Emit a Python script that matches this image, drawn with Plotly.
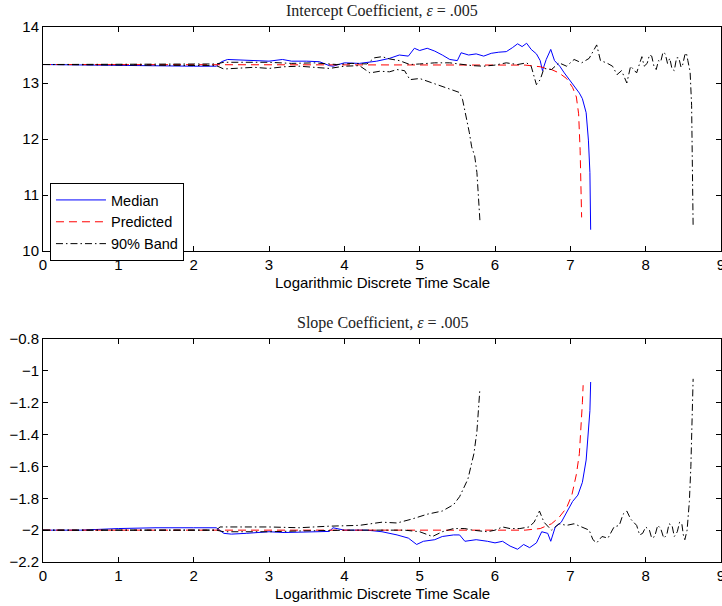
import plotly.graph_objects as go

# ---------------- data ----------------
# Top panel: Intercept coefficient
top_median_x = [0, 0.5, 1.0, 1.5, 2.0, 2.3, 2.37, 2.45, 2.6, 2.8, 3.0, 3.18, 3.3, 3.5, 3.67, 3.8, 3.85,
                4.0, 4.2, 4.43, 4.6, 4.73, 4.85, 4.93, 5.0, 5.1, 5.2, 5.3, 5.4, 5.5, 5.55, 5.65, 5.75,
                5.85, 5.95, 6.05, 6.15, 6.23, 6.3, 6.36, 6.42, 6.48, 6.55, 6.6, 6.63, 6.68, 6.74, 6.79,
                6.86, 6.92, 6.99, 7.06, 7.12, 7.16, 7.21, 7.24, 7.26, 7.27]
top_median_y = [13.33, 13.32, 13.31, 13.30, 13.30, 13.30, 13.38, 13.42, 13.41, 13.40, 13.39, 13.42, 13.39,
                13.39, 13.38, 13.31, 13.30, 13.36, 13.35, 13.39, 13.44, 13.50, 13.48, 13.62, 13.58, 13.62,
                13.57, 13.50, 13.42, 13.40, 13.54, 13.50, 13.52, 13.48, 13.53, 13.55, 13.56, 13.63, 13.70,
                13.65, 13.71, 13.60, 13.52, 13.40, 13.22, 13.42, 13.60, 13.40, 13.30, 13.18, 13.06, 12.93,
                12.82, 12.72, 12.47, 11.98, 11.40, 10.38]

top_pred_x = [0, 6.0, 6.4, 6.6, 6.75, 6.85, 6.95, 7.03, 7.08, 7.11, 7.13, 7.15]
top_pred_y = [13.33, 13.33, 13.32, 13.29, 13.24, 13.18, 13.08, 12.92, 12.75, 12.45, 11.8, 10.6]

top_band_a_x = [0, 1.0, 2.0, 2.3, 2.4, 2.6, 2.8, 3.0, 3.2, 3.4, 3.6, 3.8, 4.0, 4.2, 4.34, 4.47, 4.6,
                4.7, 4.8, 4.87, 5.0, 5.13, 5.26, 5.4, 5.53, 5.57, 5.6, 5.66, 5.69, 5.73, 5.76, 5.78, 5.8]
top_band_a_y = [13.33, 13.32, 13.31, 13.31, 13.25, 13.27, 13.28, 13.26, 13.29, 13.30, 13.28, 13.26, 13.30,
                13.31, 13.18, 13.21, 13.20, 13.24, 13.22, 13.06, 13.08, 13.02, 12.95, 12.89, 12.83, 12.70,
                12.52, 12.11, 11.86, 11.70, 11.40, 10.92, 10.54]

top_band_b_x = [0, 1.0, 2.0, 2.3, 2.4, 2.6, 2.8, 3.0, 3.3, 3.6, 3.9, 4.1, 4.3, 4.4, 4.5, 4.6, 4.73, 4.87,
                5.0, 5.2, 5.4, 5.55, 5.7, 5.85, 6.0, 6.15, 6.3, 6.42, 6.48, 6.55, 6.6, 6.65, 6.75, 6.85,
                6.95, 7.05, 7.15, 7.25, 7.3, 7.35, 7.4, 7.48, 7.56, 7.62, 7.68, 7.75, 7.8,
                7.88, 7.92, 7.95, 7.98, 8.02, 8.05, 8.08, 8.11, 8.14, 8.17, 8.2, 8.23, 8.26, 8.29,
                8.32, 8.35, 8.38, 8.41, 8.44, 8.47, 8.49, 8.52, 8.54, 8.56, 8.59, 8.61, 8.62, 8.63]
top_band_b_y = [13.33, 13.34, 13.34, 13.34, 13.37, 13.37, 13.36, 13.37, 13.35, 13.36, 13.33, 13.35, 13.34,
                13.45, 13.47, 13.43, 13.40, 13.33, 13.34, 13.36, 13.36, 13.33, 13.31, 13.30, 13.32, 13.36,
                13.33, 13.36, 13.30, 12.97, 13.06, 13.26, 13.24, 13.36, 13.30, 13.42, 13.36, 13.44, 13.55,
                13.68, 13.40, 13.36, 13.30, 13.15, 13.22, 13.00, 13.30,
                13.18, 13.35, 13.47, 13.30, 13.35, 13.50, 13.48, 13.30, 13.24, 13.40, 13.38, 13.55, 13.52,
                13.35, 13.44, 13.25, 13.22, 13.45, 13.45, 13.28, 13.32, 13.50, 13.54, 13.40, 13.20, 12.6,
                11.6, 10.43]

# Bottom panel: Slope coefficient
bot_median_x = [0, 0.5, 1.0, 1.5, 2.0, 2.3, 2.4, 2.5, 2.7, 3.0, 3.2, 3.5, 3.8, 3.85, 4.0, 4.3, 4.5, 4.7,
                4.85, 4.96, 5.05, 5.2, 5.3, 5.45, 5.53, 5.6, 5.75, 5.9, 6.0, 6.1, 6.2, 6.3, 6.38, 6.46,
                6.55, 6.62, 6.7, 6.74, 6.8, 6.88, 6.95, 7.03, 7.1, 7.16, 7.21, 7.24, 7.26, 7.27]
bot_median_y = [-2.0, -2.0, -1.99, -1.985, -1.985, -1.985, -2.02, -2.025, -2.02, -2.01, -2.015, -2.01,
                -2.008, -1.985, -2.0, -2.0, -2.01, -2.03, -2.05, -2.09, -2.07, -2.06, -2.04, -2.03, -2.03,
                -2.07, -2.06, -2.07, -2.08, -2.07, -2.10, -2.12, -2.09, -2.11, -2.08, -2.01, -2.02, -2.07,
                -1.98, -1.95, -1.89, -1.82, -1.78, -1.70, -1.56, -1.40, -1.25, -1.07]

bot_pred_x = [0, 6.4, 6.6, 6.75, 6.85, 6.95, 7.02, 7.08, 7.12, 7.14, 7.16, 7.17]
bot_pred_y = [-2.0, -2.0, -1.99, -1.96, -1.92, -1.86, -1.78, -1.65, -1.52, -1.38, -1.2, -1.09]

bot_band_a_x = [0, 2.3, 2.35, 3.0, 3.4, 3.8, 4.2, 4.5, 4.7, 4.9, 5.1, 5.3, 5.45, 5.53, 5.58, 5.64, 5.68,
                5.72, 5.76, 5.78, 5.8]
bot_band_a_y = [-2.0, -2.0, -1.98, -1.98, -1.985, -1.975, -1.97, -1.95, -1.955, -1.93, -1.90, -1.88, -1.84,
                -1.79, -1.74, -1.68, -1.60, -1.52, -1.38, -1.24, -1.11]

bot_band_b_x = [0, 1.0, 2.0, 2.3, 2.4, 2.7, 3.0, 3.4, 3.8, 4.1, 4.5, 4.8, 5.0, 5.1, 5.17, 5.3, 5.45, 5.6,
                5.7, 5.9, 6.0, 6.1, 6.2, 6.33, 6.45, 6.52, 6.59, 6.65, 6.75, 6.85, 6.95, 7.05, 7.15, 7.25,
                7.3, 7.35, 7.42, 7.5, 7.58, 7.65, 7.7, 7.75, 7.8,
                7.88, 7.92, 7.96, 8.0, 8.05, 8.08, 8.12, 8.16, 8.2, 8.24, 8.28, 8.31, 8.35, 8.38, 8.42,
                8.45, 8.48, 8.5, 8.52, 8.55, 8.58, 8.6, 8.62, 8.63]
bot_band_b_y = [-2.0, -2.0, -2.0, -2.0, -2.01, -2.012, -2.01, -2.005, -2.0, -2.0, -2.0, -2.0, -2.01, -2.03,
                -2.04, -2.01, -1.99, -1.99, -2.0, -2.01, -2.0, -1.98, -1.99, -1.99, -1.98, -1.95, -1.88,
                -1.95, -2.0, -1.96, -1.97, -1.96, -1.98, -2.0, -2.06, -2.08, -2.04, -2.05, -1.98, -1.97,
                -1.90, -1.88, -1.93,
                -1.97, -2.03, -2.02, -1.98, -2.0, -2.05, -2.04, -1.97, -1.99, -2.05, -2.03, -1.96, -1.97,
                -2.04, -2.01, -1.95, -1.96, -2.03, -2.06, -2.0, -1.82, -1.6, -1.3, -1.05]

x_ticks = [0, 1, 2, 3, 4, 5, 6, 7, 8, 9]
x_tick_labels = ["0", "1", "2", "3", "4", "5", "6", "7", "8", "9"]
top_y_ticks = [10, 11, 12, 13, 14]
top_y_tick_labels = ["10", "11", "12", "13", "14"]
bot_y_ticks = [-2.2, -2.0, -1.8, -1.6, -1.4, -1.2, -1.0, -0.8]
bot_y_tick_labels = ["\u22122.2", "\u22122", "\u22121.8", "\u22121.6", "\u22121.4", "\u22121.2", "\u22121", "\u22120.8"]

top_title = "Intercept Coefficient, <i>ε</i> = .005"
bot_title = "Slope Coefficient, <i>ε</i> = .005"
x_title = "Logarithmic Discrete Time Scale"
names = ["Median", "Predicted", "90% Band"]

# ---------------- figure ----------------
BLUE, RED, BLACK = "#0000ff", "#ff0000", "#000000"
median_line = dict(color=BLUE, width=1)
pred_line = dict(color=RED, width=1, dash="8px,5px")
band_line = dict(color=BLACK, width=1, dash="7px,3px,1.5px,3px")

fig = go.Figure()
panels = [
    ("x", "y", top_median_x, top_median_y, top_pred_x, top_pred_y,
     top_band_a_x, top_band_a_y, top_band_b_x, top_band_b_y, True),
    ("x2", "y2", bot_median_x, bot_median_y, bot_pred_x, bot_pred_y,
     bot_band_a_x, bot_band_a_y, bot_band_b_x, bot_band_b_y, False),
]
for xa, ya, mx, my, px, py, ax_, ay_, bx_, by_, legend in panels:
    fig.add_trace(go.Scatter(x=mx, y=my, mode="lines", line=median_line, name=names[0],
                             legendgroup="m", showlegend=legend, xaxis=xa, yaxis=ya))
    fig.add_trace(go.Scatter(x=px, y=py, mode="lines", line=pred_line, name=names[1],
                             legendgroup="p", showlegend=legend, xaxis=xa, yaxis=ya))
    fig.add_trace(go.Scatter(x=ax_, y=ay_, mode="lines", line=band_line, name=names[2],
                             legendgroup="b", showlegend=legend, xaxis=xa, yaxis=ya))
    fig.add_trace(go.Scatter(x=bx_, y=by_, mode="lines", line=band_line, name=names[2],
                             legendgroup="b", showlegend=False, xaxis=xa, yaxis=ya))

tick_font = dict(family="Liberation Sans, Arial, sans-serif", size=15, color="#000000")
axis_common = dict(showline=True, linecolor="black", linewidth=1, mirror="ticks",
                   ticks="inside", ticklen=5, tickwidth=1, tickcolor="black",
                   showgrid=False, zeroline=False, tickfont=tick_font, automargin=False,
                   ticklabeloverflow="allow")

fig.update_layout(
    width=722, height=606,
    margin=dict(l=43, r=1, t=27, b=44, autoexpand=False),
    paper_bgcolor="white", plot_bgcolor="white",
    showlegend=True,
    legend=dict(x=0.0103, y=0.7084, xanchor="left", yanchor="top",
                bgcolor="white", bordercolor="black", borderwidth=1,
                font=dict(family="Liberation Sans, Arial, sans-serif", size=14.5, color="#000000"),
                tracegroupgap=0, itemwidth=50),
    xaxis=dict(domain=[0, 1], range=[0, 9], tickvals=x_ticks, ticktext=x_tick_labels,
               anchor="y", **axis_common),
    yaxis=dict(domain=[0.5813, 1.0], range=[10, 14], tickvals=top_y_ticks,
               ticktext=top_y_tick_labels, anchor="x", **axis_common),
    xaxis2=dict(domain=[0, 1], range=[0, 9], tickvals=x_ticks, ticktext=x_tick_labels,
                anchor="y2", **axis_common),
    yaxis2=dict(domain=[0, 0.4168], range=[-2.2, -0.8], tickvals=bot_y_ticks,
                ticktext=bot_y_tick_labels, anchor="x2", **axis_common),
)

serif = dict(family="Liberation Serif, Times New Roman, serif", size=16, color="#222222")
sans = dict(family="Liberation Sans, Arial, sans-serif", size=15, color="#000000")
fig.add_annotation(text=top_title, x=0.5, y=1.03, xref="paper", yref="paper",
                   showarrow=False, font=serif, xanchor="center", yanchor="middle")
fig.add_annotation(text=bot_title, x=0.5, y=0.4467, xref="paper", yref="paper",
                   showarrow=False, font=serif, xanchor="center", yanchor="middle")
fig.add_annotation(text=x_title, x=0.5, y=0.5215, xref="paper", yref="paper",
                   showarrow=False, font=sans, xanchor="center", yanchor="middle")
fig.add_annotation(text=x_title, x=0.5, y=-0.058, xref="paper", yref="paper",
                   showarrow=False, font=sans, xanchor="center", yanchor="middle")

fig.write_html("out.html", config={"displayModeBar": False},
               post_script="document.body.style.margin='0';document.body.style.overflow='hidden';")
